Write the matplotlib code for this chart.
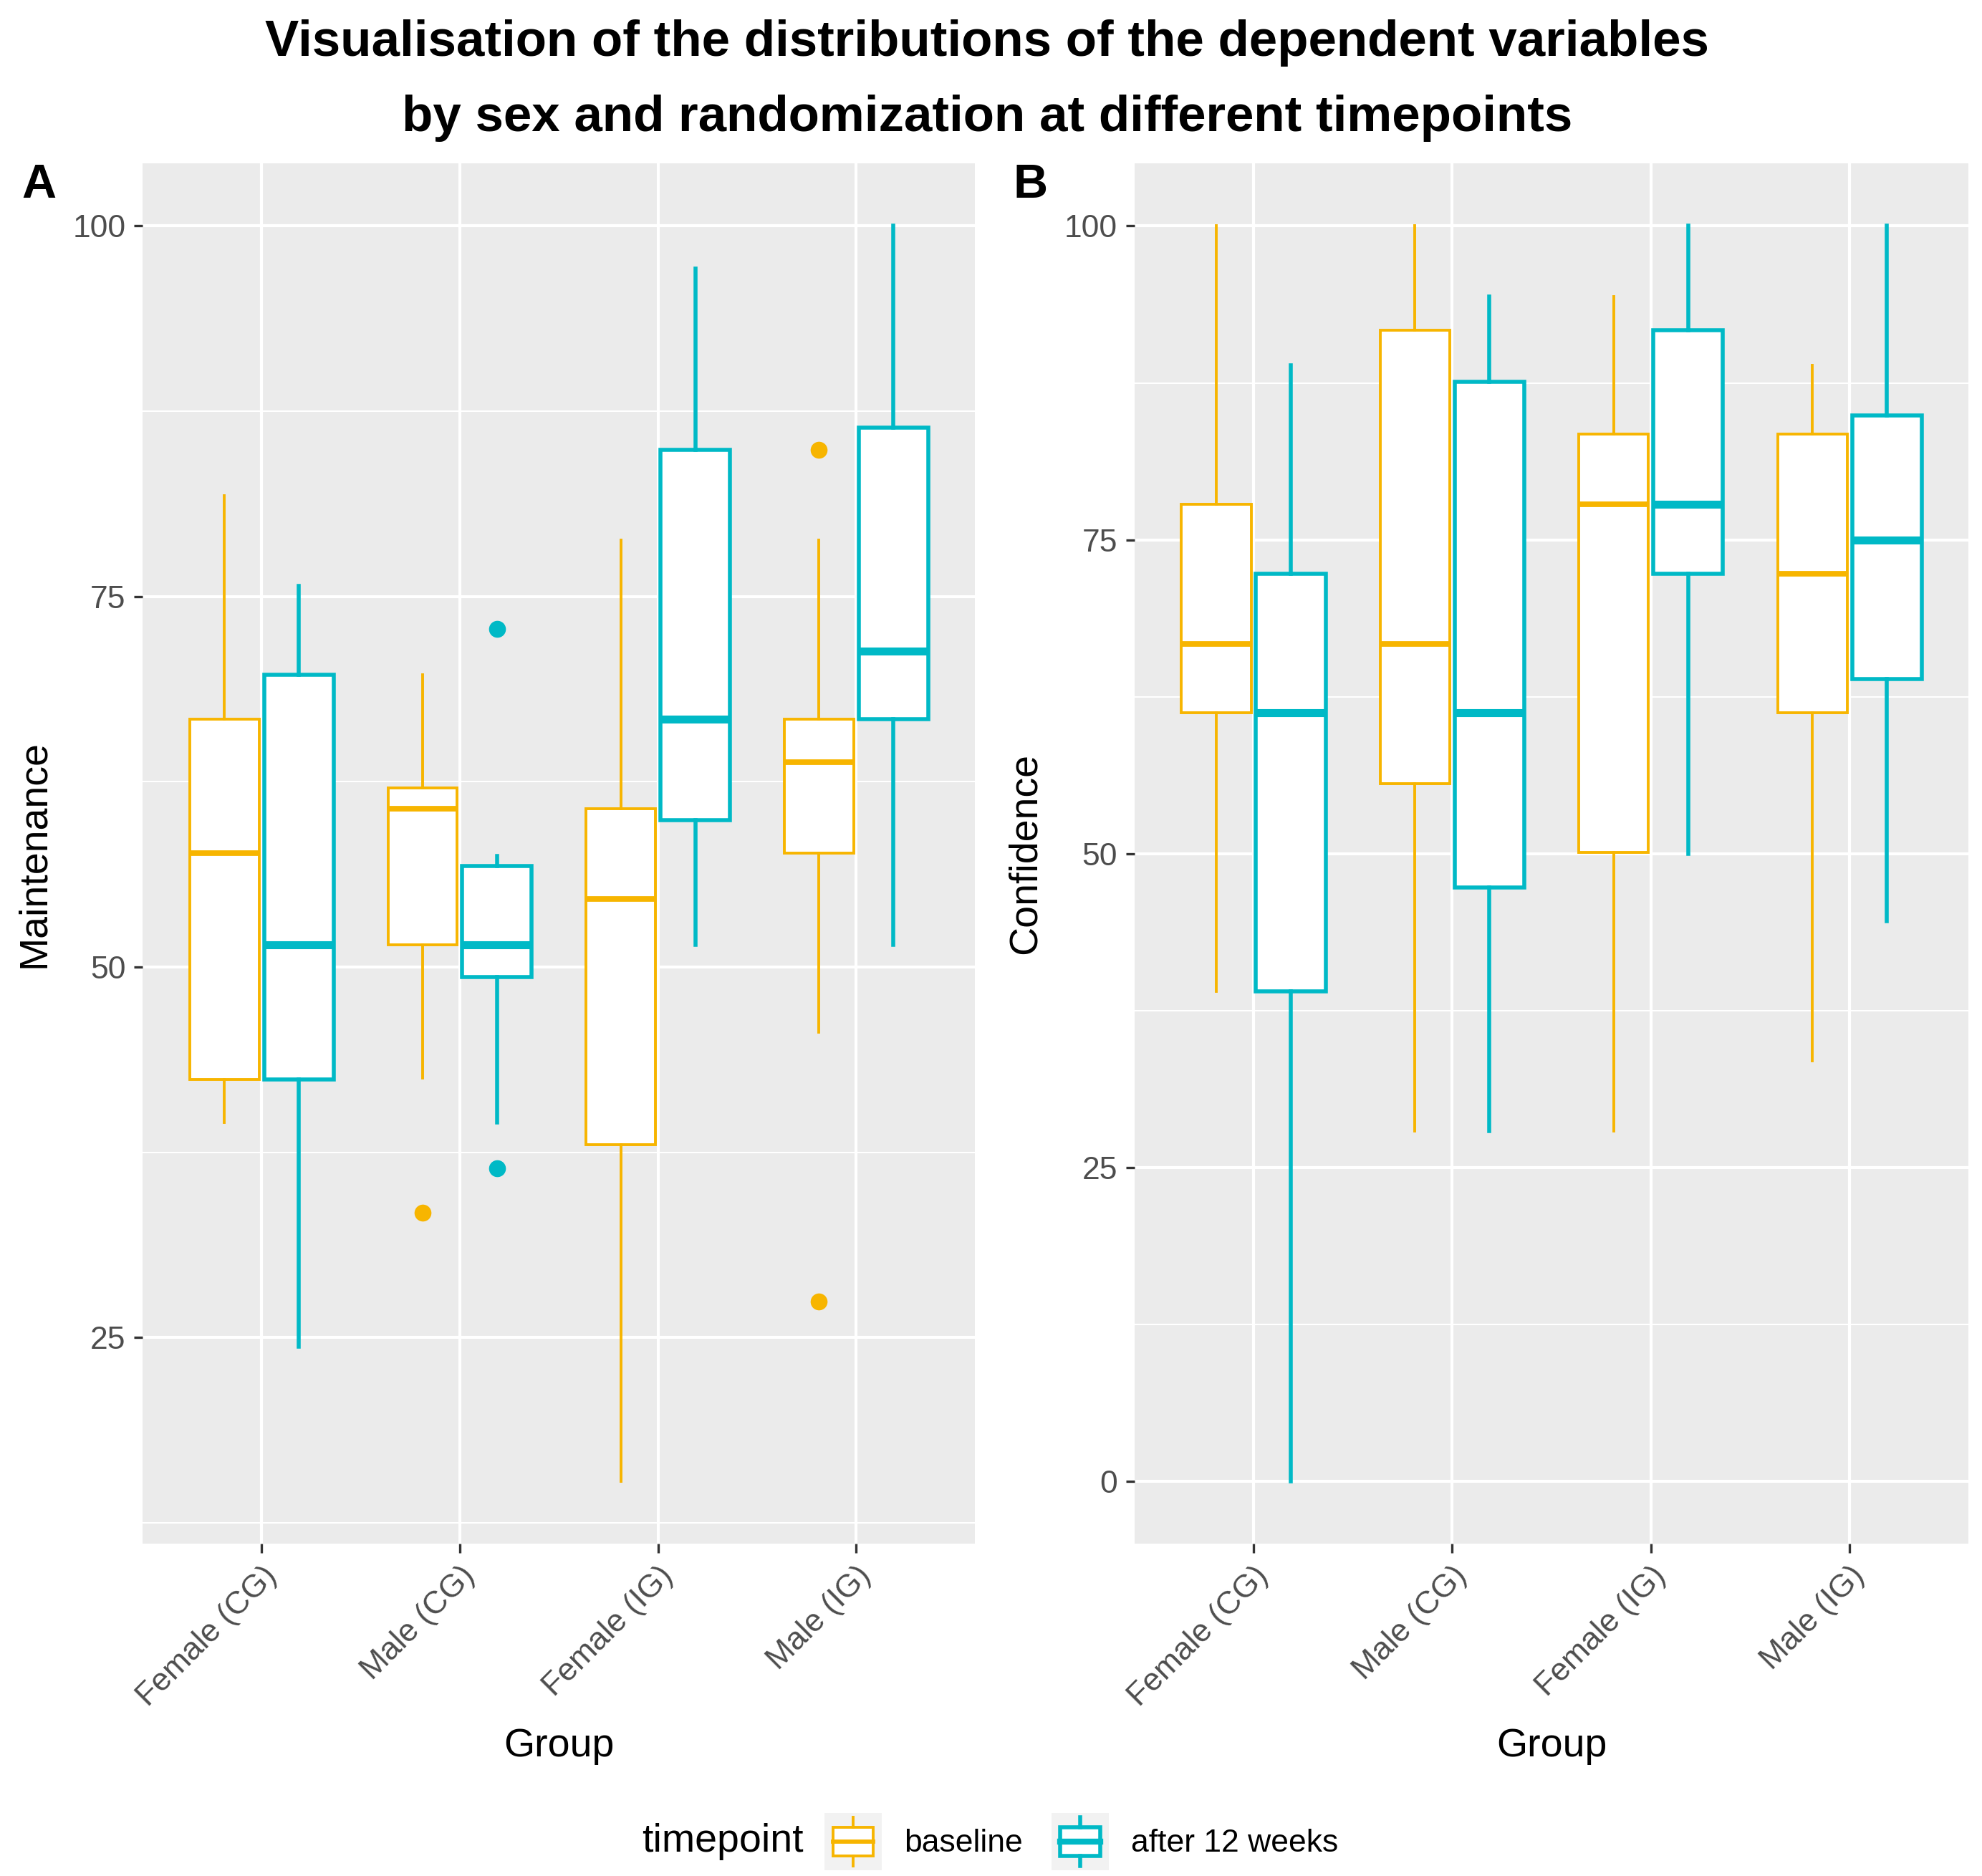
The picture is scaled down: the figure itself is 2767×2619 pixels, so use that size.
import matplotlib
matplotlib.use("Agg")
import matplotlib.pyplot as plt
from matplotlib.legend_handler import HandlerBase
from matplotlib.patches import Rectangle
from matplotlib.lines import Line2D

plt.rcParams["font.family"] = ["Liberation Sans", "DejaVu Sans"]

groups = ["Female (CG)", "Male (CG)", "Female (IG)", "Male (IG)"]
timepoints = ["baseline", "after 12 weeks"]
colours = {"baseline": "#F7B500", "after 12 weeks": "#00B9C6"}

# five-number summaries: (whislo, q1, med, q3, whishi)
maint_base = [(39.5, 42.4, 57.7, 66.7, 81.8),
              (42.5, 51.5, 60.7, 62.1, 69.7),
              (15.3, 38.0, 54.6, 60.7, 78.8),
              (45.6, 57.7, 63.8, 66.7, 78.8)]
maint_after = [(24.4, 42.4, 51.5, 69.7, 75.7),
               (39.5, 49.3, 51.5, 56.8, 57.5),
               (51.5, 59.9, 66.7, 84.9, 97.1),
               (51.5, 66.7, 71.3, 86.4, 100.0)]
maint_base_out = [[], [33.4], [], [84.9, 27.4]]
maint_after_out = [[], [72.8, 36.4], [], []]

conf_base = [(39.0, 61.2, 66.7, 77.8, 100.0),
             (27.9, 55.6, 66.7, 91.7, 100.0),
             (27.9, 50.1, 77.8, 83.4, 94.4),
             (33.5, 61.2, 72.3, 83.4, 88.9)]
conf_after = [(0.0, 39.0, 61.2, 72.3, 88.9),
              (27.9, 47.3, 61.2, 87.6, 94.4),
              (50.0, 72.3, 77.8, 91.7, 100.0),
              (44.6, 63.9, 75.0, 84.9, 100.0)]
conf_base_out = [[], [], [], []]
conf_after_out = [[], [], [], []]

line_w = {"baseline": 1.4, "after 12 weeks": 2.0}


def make_stats(summ, outs):
    stats = []
    for (lo, q1, med, q3, hi), fl in zip(summ, outs):
        stats.append(dict(whislo=lo, q1=q1, med=med, q3=q3, whishi=hi, fliers=fl))
    return stats


def draw_panel(ax, base, base_out, after, after_out, ylabel, yticks, letter):
    ax.set_facecolor("#EBEBEB")
    for tp, summ, outs, off in [("baseline", base, base_out, -0.1875),
                                ("after 12 weeks", after, after_out, 0.1875)]:
        c = colours[tp]
        lw = line_w[tp]
        pos = [i + 1 + off for i in range(len(groups))]
        ax.bxp(make_stats(summ, outs), positions=pos, widths=0.35,
               patch_artist=True, showcaps=False, manage_ticks=False,
               boxprops=dict(facecolor="white", edgecolor=c, linewidth=lw),
               whiskerprops=dict(color=c, linewidth=lw),
               medianprops=dict(color=c, linewidth=lw * 2, solid_capstyle="butt"),
               flierprops=dict(marker="o", markerfacecolor=c, markeredgecolor=c,
                               markersize=7.5, linestyle="none"),
               zorder=3)
    vals = [v for s in base + after for v in s]
    vals += [v for o in base_out + after_out for v in o]
    lo, hi = min(vals), max(vals)
    pad = 0.05 * (hi - lo)
    ax.set_yticks(yticks)
    minors = [t + 12.5 for t in yticks[:-1]] + [yticks[0] - 12.5]
    ax.set_yticks([m for m in minors if lo - pad < m < hi + pad], minor=True)
    ax.set_ylim(lo - pad, hi + pad)
    ax.set_xticks(range(1, len(groups) + 1))
    ax.set_xticklabels(groups, rotation=45, ha="right", va="top",
                       rotation_mode="anchor")
    ax.set_xlim(0.4, len(groups) + 0.6)
    ax.grid(True, which="major", color="white", linewidth=1.5, zorder=0)
    ax.grid(True, which="minor", axis="y", color="white", linewidth=0.75, zorder=0)
    ax.set_axisbelow(True)
    for s in ax.spines.values():
        s.set_visible(False)
    ax.tick_params(axis="both", which="major", length=4.5, width=1.2,
                   color="#333333", labelcolor="#4D4D4D", labelsize=16, pad=4)
    ax.tick_params(axis="both", which="minor", length=0)
    ax.set_ylabel(ylabel, fontsize=20, labelpad=10)
    ax.set_xlabel("Group", fontsize=20, labelpad=8)
    ax.text(-0.145, 1.0, letter, transform=ax.transAxes, fontsize=24,
            fontweight="bold", ha="left", va="top")


class BoxKey(HandlerBase):
    def create_artists(self, legend, orig_handle, xdescent, ydescent,
                       width, height, fontsize, trans):
        c = orig_handle.get_color()
        lw = orig_handle.get_linewidth()
        x0, y0 = -xdescent, -ydescent
        bg = Rectangle((x0, y0), width, height, facecolor="#F2F2F2",
                       edgecolor="none", transform=trans)
        bx = Rectangle((x0 + 0.15 * width, y0 + 0.25 * height), 0.7 * width,
                       0.5 * height, facecolor="white", edgecolor=c,
                       linewidth=lw, transform=trans)
        xm = x0 + width / 2
        med = Line2D([x0 + 0.15 * width, x0 + 0.85 * width],
                     [y0 + height / 2] * 2, color=c, linewidth=lw * 1.5,
                     transform=trans)
        w1 = Line2D([xm, xm], [y0 + 0.75 * height, y0 + 0.92 * height],
                    color=c, linewidth=lw, transform=trans)
        w2 = Line2D([xm, xm], [y0 + 0.08 * height, y0 + 0.25 * height],
                    color=c, linewidth=lw, transform=trans)
        return [bg, bx, med, w1, w2]


fig = plt.figure(figsize=(2767 / 200, 2619 / 200), dpi=200)
ax1 = fig.add_axes([0.072, 0.177, 0.420, 0.736])
ax2 = fig.add_axes([0.5723, 0.177, 0.421, 0.736])

draw_panel(ax1, maint_base, maint_base_out, maint_after, maint_after_out,
           "Maintenance", [25, 50, 75, 100], "A")
draw_panel(ax2, conf_base, conf_base_out, conf_after, conf_after_out,
           "Confidence", [0, 25, 50, 75, 100], "B")

fig.text(0.498, 0.977, "Visualisation of the distributions of the dependent variables",
         ha="center", va="center", fontsize=25.5, fontweight="bold")
fig.text(0.498, 0.937, "by sex and randomization at different timepoints",
         ha="center", va="center", fontsize=25.5, fontweight="bold")

handles = [Line2D([], [], color=colours[tp], linewidth=line_w[tp]) for tp in timepoints]
fig.text(0.324, 0.0183, "timepoint", ha="left", va="center", fontsize=20)
fig.legend(handles, timepoints, handler_map={Line2D: BoxKey()},
           loc="center left", bbox_to_anchor=(0.416, 0.0183), ncol=2,
           frameon=False, fontsize=16, handlelength=1.8, handleheight=2.4,
           handletextpad=0.7, columnspacing=0.9, borderpad=0, borderaxespad=0)

fig.savefig("out.png", dpi=200)
